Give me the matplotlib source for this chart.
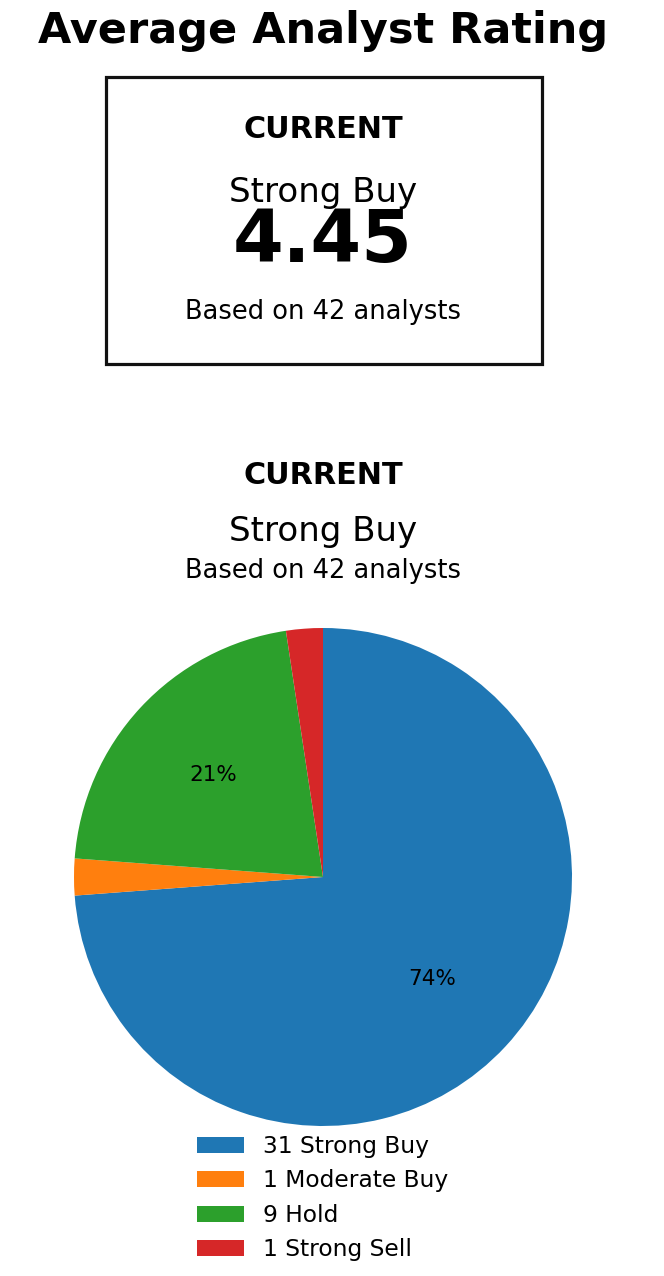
import matplotlib.pyplot as plt
from matplotlib.patches import Rectangle

# Rating counts
labels = ['Strong Buy', 'Moderate Buy', 'Hold', 'Strong Sell']
counts = [31, 1, 9, 1]
colors = ['#1f77b4', '#ff7f0e', '#2ca02c', '#d62728']
avg_rating = 4.45
consensus = 'Strong Buy'
n_analysts = sum(counts)

W, H = 664, 1276
fig = plt.figure(figsize=(W / 100, H / 100), dpi=100)


def fx(px):
    return px / W


def fy(py):
    return 1 - py / H


fig.text(fx(323), fy(43), 'Average Analyst Rating', ha='center', va='baseline',
         fontsize=31, fontweight='bold')

# summary box
fig.add_artist(Rectangle((fx(106), fy(364)), fx(542) - fx(106), fy(77) - fy(364),
                         transform=fig.transFigure, fill=False, lw=2.3, ec='#111111'))
fig.text(fx(323), fy(138), 'CURRENT', ha='center', va='baseline', fontsize=21.8, fontweight='bold')
fig.text(fx(323), fy(202), consensus, ha='center', va='baseline', fontsize=24.5)
fig.text(fx(323), fy(262), f'{avg_rating:.2f}', ha='center', va='baseline', fontsize=52.5,
         fontweight='bold')
fig.text(fx(323), fy(319), f'Based on {n_analysts} analysts', ha='center', va='baseline',
         fontsize=18.5)

# pie section header
fig.text(fx(323), fy(484), 'CURRENT', ha='center', va='baseline', fontsize=21.8, fontweight='bold')
fig.text(fx(323), fy(541), consensus, ha='center', va='baseline', fontsize=24.5)
fig.text(fx(323), fy(578), f'Based on {n_analysts} analysts', ha='center', va='baseline',
         fontsize=18.5)

cx, cy, r = 323, 877, 249
ax = fig.add_axes([fx(cx - r), fy(cy + r), 2 * r / W, 2 * r / H])
wedges, _, autotexts = ax.pie(counts, colors=colors, startangle=90, counterclock=False,
                              autopct=lambda p: f'{p:.0f}%' if p > 5 else '',
                              textprops={'fontsize': 15.5})
ax.set_xlim(-1, 1)
ax.set_ylim(-1, 1)

leg_labels = [f'{c} {l}' for c, l in zip(counts, labels)]
fig.legend(wedges, leg_labels, loc='upper left', bbox_to_anchor=(fx(176), fy(1114)),
           frameon=False, fontsize=16.8, labelspacing=0.49, handlelength=2.0,
           handletextpad=0.82)

fig.savefig('out.png', dpi=100)
